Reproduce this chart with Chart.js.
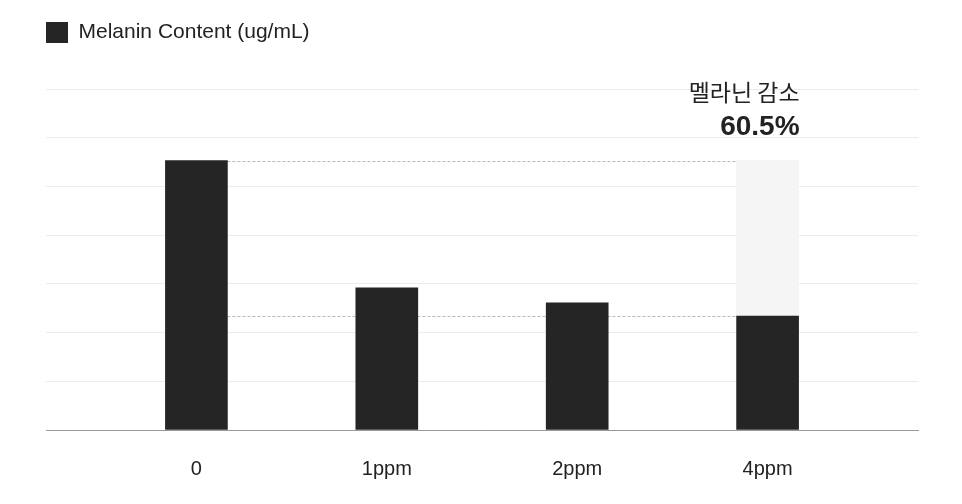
<!DOCTYPE html>
<html>
<head>
<meta charset="utf-8">
<script src="https://cdn.jsdelivr.net/npm/chart.js@4"></script>
<style>
  html, body { margin: 0; padding: 0; background: #fff; }
  #wrap { width: 962px; height: 504px; }
</style>
</head>
<body>
<div id="wrap"><canvas id="melanin"></canvas></div>
<script>
const categories = ["0", "1ppm", "2ppm", "4ppm"];
const melanin = [5.53, 2.92, 2.61, 2.34];
const reductionLabel = "멜라닌 감소";
const reductionText = "60.5%";

const barColor = "#252525";
const fontFamily = "'Liberation Sans', Arial, sans-serif";

// index positions on the linear x axis
const positions = categories.map((c, i) => i);

// dashed reference lines + annotation text
const refLines = {
    id: 'refLines',
    beforeDatasetsDraw(chart) {
        const x = chart.scales.x, y = chart.scales.y, ctx = chart.ctx;
        const last = positions.length - 1;
        const half = 31;
        const yTop = y.getPixelForValue(melanin[0]);
        const yLow = y.getPixelForValue(melanin[last]);
        ctx.save();
        ctx.strokeStyle = "#b8b8b8";
        ctx.lineWidth = 1;
        ctx.setLineDash([3, 2]);
        ctx.beginPath();
        ctx.moveTo(x.getPixelForValue(0) + half, Math.round(yTop) + 0.5);
        ctx.lineTo(x.getPixelForValue(last) + half, Math.round(yTop) + 0.5);
        ctx.moveTo(x.getPixelForValue(0) + half, Math.round(yLow) + 0.5);
        ctx.lineTo(x.getPixelForValue(last) - half, Math.round(yLow) + 0.5);
        ctx.stroke();
        ctx.restore();
    },
    afterDraw(chart) {
        const x = chart.scales.x, ctx = chart.ctx;
        const right = x.getPixelForValue(positions.length - 1) + 32;
        ctx.save();
        ctx.textAlign = 'right';
        ctx.textBaseline = 'middle';
        ctx.fillStyle = "#222";
        ctx.font = "23px 'Noto Sans CJK KR', sans-serif";
        ctx.fillText(reductionLabel, right, 92);
        ctx.font = "bold 28px " + fontFamily;
        ctx.fillText(reductionText, right, 127);
        ctx.restore();
    }
};

const ctx1 = document.getElementById("melanin");

const myChart = new Chart(ctx1, {
    type: 'bar',
    data: {
        datasets: [
            {
                label: "Melanin Content (ug/mL)",
                data: positions.map((p, i) => ({ x: p, y: melanin[i] })),
                backgroundColor: barColor,
                borderWidth: 0,
                barThickness: 62,
                order: 1
            },
            {
                label: "reduction",
                data: [{ x: positions.length - 1, y: [melanin[melanin.length - 1], melanin[0]] }],
                backgroundColor: "#f5f5f5",
                borderWidth: 0,
                barThickness: 62,
                order: 2
            }
        ]
    },
    options: {
        responsive: true,
        maintainAspectRatio: false,
        animation: false,
        layout: { padding: { left: 36, right: 44, top: 12, bottom: 0 } },
        datasets: { bar: { grouped: false } },
        plugins: {
            legend: {
                align: 'start',
                labels: {
                    boxWidth: 22,
                    boxHeight: 21,
                    padding: 10,
                    color: "#222",
                    font: { size: 21, family: fontFamily },
                    filter: item => item.datasetIndex === 0
                }
            },
            // empty title used as a spacer below the legend
            title: {
                display: true,
                text: ' ',
                weight: 500,
                font: { size: 10 },
                padding: { top: 0, bottom: 24 }
            },
            tooltip: { enabled: false }
        },
        scales: {
            x: {
                type: 'linear',
                offset: false,
                min: -0.79,
                max: 3.79,
                afterBuildTicks: axis => { axis.ticks = positions.map(v => ({ value: v })); },
                afterFit: axis => { axis.height = 74; },
                ticks: {
                    color: "#222",
                    padding: 27,
                    font: { size: 20, family: fontFamily },
                    callback: v => categories[v]
                },
                grid: { display: false, drawTicks: false },
                border: { color: "#999", width: 1 }
            },
            y: {
                min: 0,
                max: 7,
                afterFit: axis => { axis.width = 10; },
                ticks: { display: false, stepSize: 1 },
                grid: { color: "#ebebeb", drawTicks: false },
                border: { display: false }
            }
        }
    },
    plugins: [refLines]
});
</script>
</body>
</html>
